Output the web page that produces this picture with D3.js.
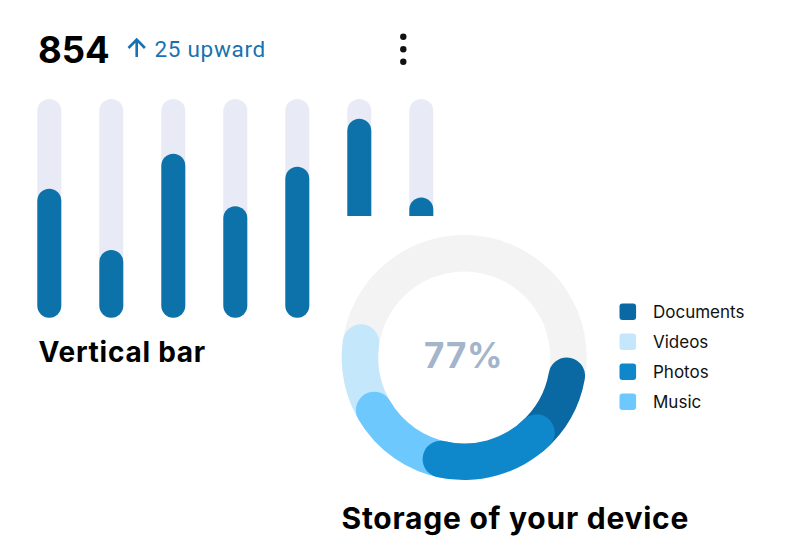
<!DOCTYPE html>
<html>
<head>
<meta charset="utf-8">
<script src="https://cdn.jsdelivr.net/npm/d3@7"></script>
<style>
  html, body { margin: 0; padding: 0; background: #fff; }
  svg { display: block; }
</style>
</head>
<body>
<svg id="chart" width="786" height="558"></svg>
<script>
// bar chart data (percent of track)
const barCategories = ["1", "2", "3", "4", "5", "6", "7"];
const barValues = [59, 31, 75, 51, 69, 91, 55];

// storage donut data: clockwise order, share of full circle in percent
const storageLabels = ["Documents", "Photos", "Music", "Videos"];
const storageShares = [10, 21.4, 13, 10.7];
const legendLabels = ["Documents", "Videos", "Photos", "Music"];
const drawOrder = ["Videos", "Music", "Documents", "Photos"];

const headlineValue = "854";
const changeText = "25 upward";
const centerText = "77%";

const colors = {
    Documents: "#0a69a3",
    Videos: "#c5e7fc",
    Photos: "#0f87cb",
    Music: "#6dc8fe"
};

const svg = d3.select("#chart");

//Header
svg.append("text")
    .attr("x", 38)
    .attr("y", 62.5)
    .attr("font-family", "Inter, sans-serif")
    .attr("font-weight", 700)
    .attr("font-size", 36.5)
    .attr("fill", "#000")
    .text(headlineValue);

//up arrow
svg.append("path")
    .attr("d", "M136.7,57 V40 M128.5,48 L136.7,39.5 L144.9,48")
    .attr("fill", "none")
    .attr("stroke", "#1872b0")
    .attr("stroke-width", 2.6);

svg.append("text")
    .attr("x", 154.5)
    .attr("y", 57)
    .attr("font-family", "Roboto, sans-serif")
    .attr("font-size", 22.5)
    .attr("letter-spacing", 0.7)
    .attr("fill", "#1872b0")
    .text(changeText);

//kebab menu
svg.append("g").selectAll("circle")
    .data([36.7, 49.3, 61.7])
    .enter().append("circle")
    .attr("cx", 403.3)
    .attr("cy", d => d)
    .attr("r", 3.2)
    .attr("fill", "#111");

//Vertical bars
const x = d3.scaleBand()
    .domain(barCategories)
    .range([37.3, 433.3])
    .paddingInner(38 / 62)
    .paddingOuter(0);

const y = d3.scaleLinear()
    .domain([0, 100])
    .range([317.7, 99]);

const bars = svg.append("g");
bars.selectAll(".track").data(barCategories)
    .enter().append("rect")
    .attr("class", "track")
    .attr("x", d => x(d))
    .attr("y", y(100))
    .attr("width", x.bandwidth())
    .attr("height", y(0) - y(100))
    .attr("rx", x.bandwidth() / 2)
    .attr("fill", "#e8ebf6");

bars.selectAll(".bar").data(barValues)
    .enter().append("rect")
    .attr("class", "bar")
    .attr("x", (d, i) => x(barCategories[i]))
    .attr("y", d => y(d))
    .attr("width", x.bandwidth())
    .attr("height", d => y(0) - y(d))
    .attr("rx", x.bandwidth() / 2)
    .attr("fill", "#0e72aa");

svg.append("text")
    .attr("x", 38.5)
    .attr("y", 361.5)
    .attr("font-family", "Inter, sans-serif")
    .attr("font-weight", 700)
    .attr("font-size", 28)
    .attr("letter-spacing", 0.75)
    .attr("fill", "#000")
    .text("Vertical bar");

//Storage panel sits on top of the bars
svg.append("rect")
    .attr("x", 335)
    .attr("y", 216)
    .attr("width", 786 - 335)
    .attr("height", 558 - 216)
    .attr("fill", "#fff");

const cx = 464.2, cy = 357.5;
const inner = 86, outer = 122.5;
const donut = svg.append("g").attr("transform", `translate(${cx},${cy})`);

const ring = d3.arc().innerRadius(inner).outerRadius(outer);
donut.append("path")
    .attr("d", ring({ startAngle: 0, endAngle: 2 * Math.PI }))
    .attr("fill", "#f3f3f3");

//angles from the shares, starting at 3 o'clock
const toRad = d3.scaleLinear().domain([0, 100]).range([0, 2 * Math.PI]);
const startAt = Math.PI / 2;
const cum = d3.cumsum(storageShares);
const pad = toRad(6.5);
const segments = storageLabels.map((label, i) => {
    let s = startAt + toRad(i ? cum[i - 1] : 0);
    let e = startAt + toRad(cum[i]);
    const z = drawOrder.indexOf(label);
    // hide the overlapping end beneath the neighbour drawn above it
    if (i > 0 && drawOrder.indexOf(storageLabels[i - 1]) > z) s -= pad;
    if (i < storageLabels.length - 1 && drawOrder.indexOf(storageLabels[i + 1]) > z) e += pad;
    return { label, startAngle: s, endAngle: e, z };
}).sort((a, b) => a.z - b.z);

const segArc = d3.arc()
    .innerRadius(inner)
    .outerRadius(outer)
    .cornerRadius((outer - inner) / 2);

donut.selectAll(".seg").data(segments)
    .enter().append("path")
    .attr("class", "seg")
    .attr("d", segArc)
    .attr("fill", d => colors[d.label]);

donut.append("text")
    .attr("x", -0.5)
    .attr("y", 10)
    .attr("text-anchor", "middle")
    .attr("font-family", "Inter, sans-serif")
    .attr("font-weight", 700)
    .attr("font-size", 35)
    .attr("letter-spacing", 0.75)
    .attr("fill", "#a3b4cb")
    .text(centerText);

//legend
const legend = svg.append("g").selectAll(".legend").data(legendLabels)
    .enter().append("g")
    .attr("class", "legend")
    .attr("transform", (d, i) => `translate(619.5,${311.7 + i * 30})`);
legend.append("rect")
    .attr("x", 0)
    .attr("y", -8.3)
    .attr("width", 16.6)
    .attr("height", 16.6)
    .attr("rx", 3)
    .attr("fill", d => colors[d]);
legend.append("text")
    .attr("x", 33.5)
    .attr("y", 6)
    .attr("font-family", "Inter, sans-serif")
    .attr("font-size", 17)
    .attr("fill", "#111")
    .text(d => d);

svg.append("text")
    .attr("x", 341.5)
    .attr("y", 528.5)
    .attr("font-family", "Inter, sans-serif")
    .attr("font-weight", 700)
    .attr("font-size", 30)
    .attr("letter-spacing", 0.75)
    .attr("fill", "#000")
    .text("Storage of your device");
</script>
</body>
</html>
